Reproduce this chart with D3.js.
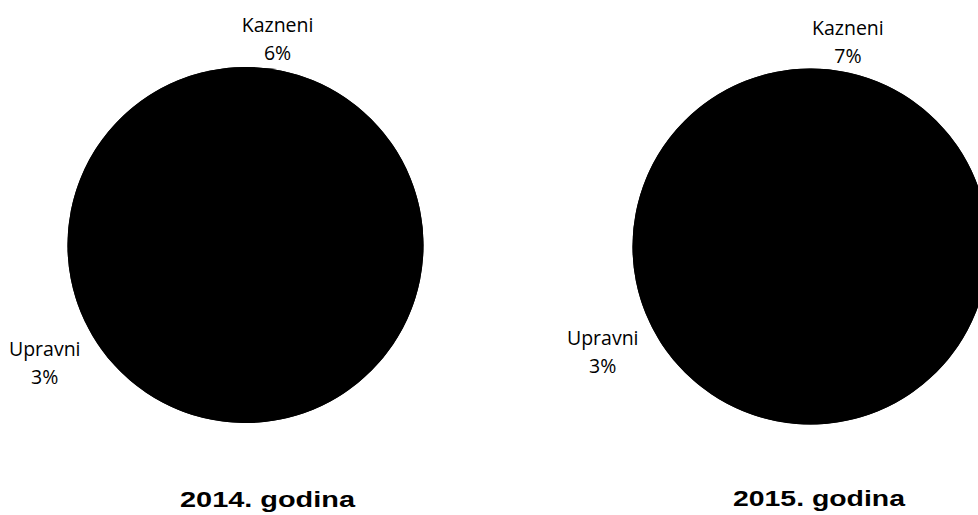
<!doctype html>
<html>
<head>
<script src="https://cdnjs.cloudflare.com/ajax/libs/d3/7.8.5/d3.min.js"></script>
<style>
body { margin: 0; background: #fff; }
text.lbl {
  font-family: "Open Sans", sans-serif;
  font-size: 19.5px;
  fill: #000;
  text-anchor: middle;
}
text.title {
  font-family: "Liberation Sans", Arial, sans-serif;
  font-weight: bold;
  font-size: 22px;
  fill: #000;
  text-anchor: middle;
}
</style>
</head>
<body>
<svg width="978" height="515"></svg>
<script>
// data; the two large slices carry no visible label
var categories = ["Kazneni", "(bez oznake 1)", "Upravni", "(bez oznake 2)"];
var labelled   = [true, false, true, false];
var values2014 = [6, 59, 3, 32];
var values2015 = [7, 59, 3, 31];
var years      = ["2014. godina", "2015. godina"];

// layout only
var charts = [
  {values: values2014, title: years[0], cx: 245.5, cy: 245, titleX: 267.5, titleY: 507, titleW: 175},
  {values: values2015, title: years[1], cx: 810.5, cy: 246.5, titleX: 819, titleY: 506, titleW: 172}
];
var radius = 178;
var lineGap = 28;

var svg = d3.select("svg");

var pie = d3.pie().sort(null).value(d => d.v);
var arc = d3.arc().innerRadius(0).outerRadius(radius);

charts.forEach(function(c) {
  var rows = categories.map((k, i) => ({k: k, v: c.values[i], show: labelled[i]}));

  var g = svg.append("g").attr("transform", "translate(" + c.cx + "," + c.cy + ")");

  // full disc behind the slices so no light seams show between them
  g.append("path")
    .attr("d", arc({startAngle: 0, endAngle: 2 * Math.PI}))
    .attr("fill", "#000");

  g.selectAll("path.slice")
    .data(pie(rows))
    .enter()
    .append("path")
    .attr("class", "slice")
    .attr("d", arc)
    .attr("fill", "#000");

  var total = d3.sum(c.values);

  g.selectAll("text.lbl")
    .data(pie(rows).filter(d => d.data.show))
    .enter()
    .append("text")
    .attr("class", "lbl")
    .each(function(d) {
      var t = d3.select(this);
      var l1 = t.append("tspan").attr("x", 0).text(d.data.k);
      var l2 = t.append("tspan").attr("x", 0).text(Math.round(d.data.v / total * 100) + "%");
      var hw = this.getBBox().width / 2;
      var hh = (13 + lineGap) / 2;
      var a = (d.startAngle + d.endAngle) / 2;
      var sx = Math.sin(a), sy = -Math.cos(a);
      var ext = Math.min(Math.abs(sx) > 1e-6 ? hw / Math.abs(sx) : 1e9,
                         Math.abs(sy) > 1e-6 ? hh / Math.abs(sy) : 1e9);
      var side = Math.abs(sy) < 0.7;
      var dist = radius + (side ? 15 : 10) + ext;
      var px = side ? sx * dist : sx * dist * 0.82, py = sy * dist;
      l1.attr("x", px).attr("y", py - hh + 13);
      l2.attr("x", px).attr("y", py - hh + 13 + lineGap);
    });

  svg.append("text")
    .attr("class", "title")
    .attr("x", c.titleX)
    .attr("y", c.titleY)
    .attr("textLength", c.titleW)
    .attr("lengthAdjust", "spacingAndGlyphs")
    .text(c.title);
});
</script>
</body>
</html>
